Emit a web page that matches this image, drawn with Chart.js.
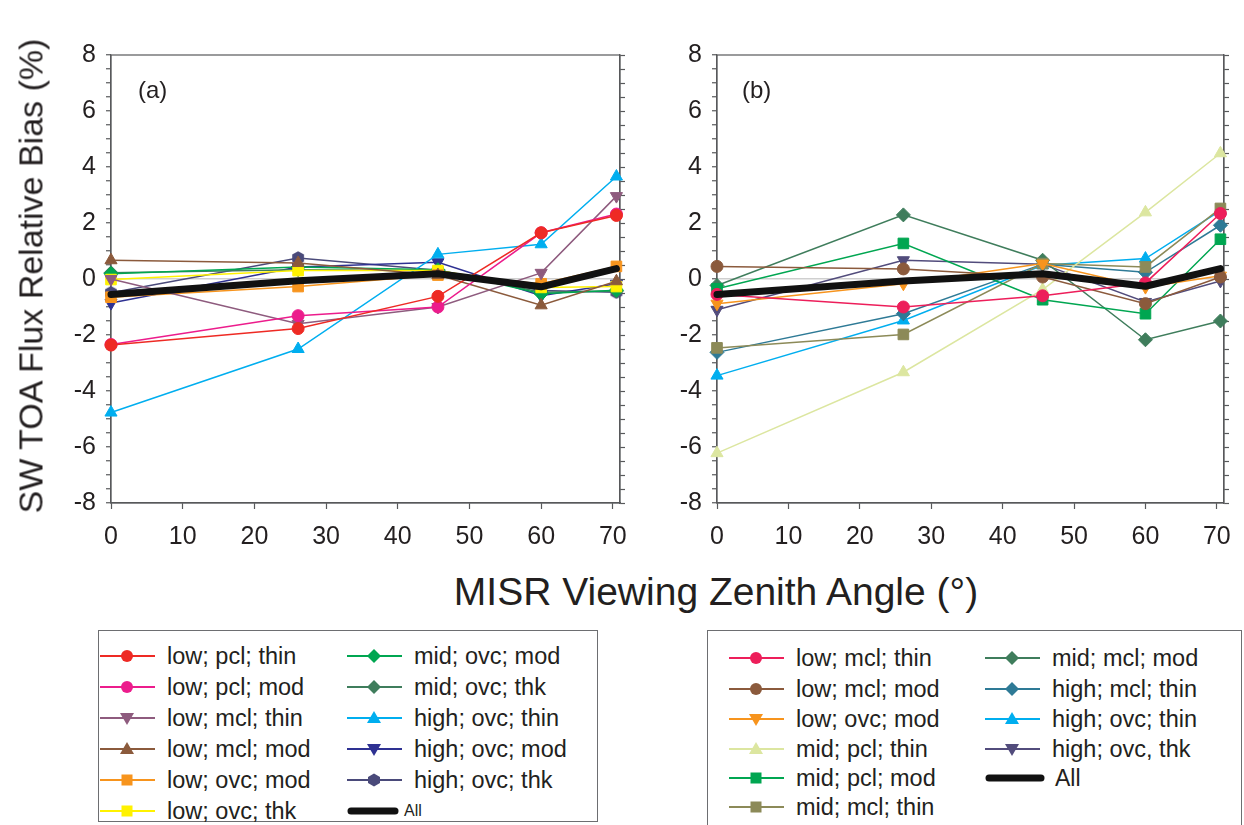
<!DOCTYPE html>
<html>
<head>
<meta charset="utf-8">
<title>SW TOA Flux Relative Bias</title>
<script src="https://cdn.jsdelivr.net/npm/chart.js@4.4.1/dist/chart.umd.min.js"></script>
<style>
  body { margin: 0; width: 1244px; height: 825px; background: #fff; position: relative; overflow: hidden;
         font-family: "Liberation Sans", Arial, sans-serif; color: #231f20; }
  canvas { position: absolute; }
  .ytitle { position: absolute; left: 31px; top: 276px; transform: translate(-50%, -50%) rotate(-90deg);
            font-size: 34px; white-space: nowrap; }
  .xtitle { position: absolute; left: 716px; top: 592px; transform: translate(-50%, -50%);
            font-size: 39px; white-space: nowrap; }
  .tag { position: absolute; font-size: 24px; line-height: 1; transform: translateY(-50%); }
  .legend { position: absolute; border: 1px solid #6d6e71; box-sizing: border-box; background: #fff; }
  .item { position: absolute; height: 24px; transform: translateY(-50%); display: flex; align-items: center;
          font-size: 23.5px; white-space: nowrap; }
  .item svg { display: block; margin-right: 12px; }
</style>
</head>
<body>
<canvas id="chartA" width="600" height="535" style="left:40px; top:25px;"></canvas>
<canvas id="chartB" width="598" height="535" style="left:646px; top:25px;"></canvas>
<div class="ytitle">SW TOA Flux Relative Bias (%)</div>
<div class="xtitle">MISR Viewing Zenith Angle (°)</div>
<div class="tag" style="left:138px; top:90px;">(a)</div>
<div class="tag" style="left:742px; top:90px;">(b)</div>
<div class="legend" id="legendA" style="left:98px; top:630px; width:500px; height:192px;"></div>
<div class="legend" id="legendB" style="left:707px; top:630px; width:535px; height:205px;"></div>

<script>
// MISR camera view zenith angles
const angles = [0, 26.1, 45.6, 60.0, 70.5];
const xTickLabels = [0, 10, 20, 30, 40, 50, 60, 70];
const yTickLabels = [-8, -6, -4, -2, 0, 2, 4, 6, 8];

// panel (a)
const namesA = ["low; pcl; thin", "low; pcl; mod", "low; mcl; thin", "low; mcl; mod", "low; ovc; mod",
  "low; ovc; thk", "mid; ovc; mod", "mid; ovc; thk", "high; ovc; thin", "high; ovc; mod", "high; ovc; thk"];
const aLowPclThin  = [-2.36, -1.77, -0.62, 1.65, 2.27];
const aLowPclMod   = [-2.34, -1.31, -1.00, 1.65, 2.32];
const aLowMclThin  = [0.00, -1.60, -1.00, 0.22, 2.96];
const aLowMclMod   = [0.67, 0.57, 0.14, -0.94, -0.08];
const aLowOvcMod   = [-0.65, -0.27, 0.14, -0.17, 0.45];
const aLowOvcThk   = [-0.02, 0.30, 0.30, -0.30, -0.27];
const aMidOvcMod   = [0.19, 0.43, 0.33, -0.53, -0.40];
const aMidOvcThk   = [0.22, 0.33, 0.30, -0.47, -0.43];
const aHighOvcThin = [-4.77, -2.50, 0.88, 1.24, 3.66];
const aHighOvcMod  = [-0.86, 0.43, 0.60, -0.60, -0.17];
const aHighOvcThk  = [-0.49, 0.75, 0.31, -0.41, -0.47];
const allA = [-0.55, -0.06, 0.19, -0.28, 0.37];

// panel (b)
const namesB = ["low; mcl; thin", "low; mcl; mod", "low; ovc; mod", "mid; pcl; thin", "mid; pcl; mod",
  "mid; mcl; thin", "mid; mcl; mod", "high; mcl; thin", "high; ovc; thin", "high; ovc, thk"];
const bLowMclThin  = [-0.55, -1.00, -0.60, -0.14, 2.34];
const bLowMclMod   = [0.45, 0.36, 0.07, -0.88, 0.07];
const bLowOvcMod   = [-0.88, -0.17, 0.55, -0.29, 0.12];
const bMidPclThin  = [-6.22, -3.33, -0.38, 2.38, 4.49];
const bMidPclMod   = [-0.35, 1.27, -0.74, -1.24, 1.42];
const bMidMclThin  = [-2.46, -1.98, 0.55, 0.43, 2.52];
const bMidMclMod   = [-0.23, 2.29, 0.67, -2.17, -1.50];
const bHighMclThin = [-2.62, -1.24, 0.53, 0.24, 1.92];
const bHighOvcThin = [-3.45, -1.48, 0.49, 0.73, 2.44];
const bHighOvcThk  = [-1.10, 0.67, 0.53, -0.82, -0.07];
const allB = [-0.55, -0.07, 0.19, -0.26, 0.37];

const seriesA = [aLowPclThin, aLowPclMod, aLowMclThin, aLowMclMod, aLowOvcMod, aLowOvcThk,
  aMidOvcMod, aMidOvcThk, aHighOvcThin, aHighOvcMod, aHighOvcThk];
const seriesB = [bLowMclThin, bLowMclMod, bLowOvcMod, bMidPclThin, bMidPclMod, bMidMclThin,
  bMidMclMod, bHighMclThin, bHighOvcThin, bHighOvcThk];

const stylesA = [
  { color: "#ee2a24", shape: "circle" },
  { color: "#ec1c8c", shape: "circle" },
  { color: "#8e5b7e", shape: "down" },
  { color: "#8b5a3c", shape: "triangle" },
  { color: "#f7941d", shape: "rect" },
  { color: "#fff200", shape: "rect" },
  { color: "#00a651", shape: "rectRot" },
  { color: "#3f7d5c", shape: "rectRot" },
  { color: "#00aeef", shape: "triangle" },
  { color: "#2e3192", shape: "down" },
  { color: "#4a4a7a", shape: "hex" }
];
const stylesB = [
  { color: "#ed1e5a", shape: "circle" },
  { color: "#8b5a3c", shape: "circle" },
  { color: "#f7941d", shape: "down" },
  { color: "#dce6a0", shape: "triangle" },
  { color: "#00a651", shape: "rect" },
  { color: "#8c8a58", shape: "rect" },
  { color: "#3f7d5c", shape: "rectRot" },
  { color: "#2e7a96", shape: "rectRot" },
  { color: "#00aeef", shape: "triangle" },
  { color: "#524c7c", shape: "down" }
];

const FONT = "'Liberation Sans', Arial, sans-serif";
const AXIS = "#58595b";

function hexImage(color) {
  const c = document.createElement("canvas");
  c.width = 14; c.height = 14;
  const g = c.getContext("2d");
  g.fillStyle = color;
  g.beginPath();
  for (let k = 0; k < 6; k++) {
    const a = Math.PI / 6 + k * Math.PI / 3;
    const px = 7 + 6.8 * Math.cos(a), py = 7 + 6.8 * Math.sin(a);
    k === 0 ? g.moveTo(px, py) : g.lineTo(px, py);
  }
  g.closePath();
  g.fill();
  return c;
}

function pointProps(s) {
  if (s.shape === "hex") return { pointStyle: hexImage(s.color), pointRadius: 7, pointRotation: 0 };
  if (s.shape === "down") return { pointStyle: "triangle", pointRadius: 7, pointRotation: 180 };
  if (s.shape === "triangle") return { pointStyle: "triangle", pointRadius: 7, pointRotation: 0 };
  if (s.shape === "rect") return { pointStyle: "rect", pointRadius: 7.5, pointRotation: 0 };
  if (s.shape === "rectRot") return { pointStyle: "rectRot", pointRadius: 7, pointRotation: 0 };
  return { pointStyle: "circle", pointRadius: 6, pointRotation: 0 };
}

const near = (list, v) => list.some(t => Math.abs(t - v) < 1e-6);

const frame = {
  id: "frame",
  beforeDatasetsDraw(chart) {
    const a = chart.chartArea, g = chart.ctx;
    g.save();
    g.strokeStyle = AXIS;
    g.lineWidth = 1.2;
    g.strokeRect(a.left, a.top, a.right - a.left, a.bottom - a.top);
    g.restore();
  }
};

function makeChart(id, series, styles, names, allVals, leftWidth, rightWidth) {
  const datasets = series.map((vals, i) => Object.assign({
    label: names[i],
    data: angles.map((x, j) => ({ x: x, y: vals[j] })),
    borderColor: styles[i].color,
    backgroundColor: styles[i].color,
    borderWidth: 1.5,
    pointBorderWidth: 1,
    tension: 0,
    clip: false,
    order: 1
  }, pointProps(styles[i])));

  datasets.push({
    label: "All",
    data: angles.map((x, j) => ({ x: x, y: allVals[j] })),
    borderColor: "#111111",
    backgroundColor: "#111111",
    borderWidth: 7,
    borderCapStyle: "round",
    borderJoinStyle: "round",
    pointRadius: 0,
    clip: false,
    order: 0
  });

  return new Chart(document.getElementById(id), {
    type: "line",
    data: { datasets },
    plugins: [frame],
    options: {
      responsive: false,
      animation: false,
      layout: { padding: { top: 30, left: 0, right: 0, bottom: 0 } },
      plugins: { legend: { display: false }, tooltip: { enabled: false } },
      scales: {
        x: {
          type: "linear", min: 0, max: 71, position: "bottom",
          afterFit: s => { s.height = 57; },
          ticks: {
            stepSize: 10, includeBounds: false, autoSkip: false, maxRotation: 0, padding: 13,
            color: "#231f20", font: { size: 25, family: FONT },
            callback: v => near(xTickLabels, v) ? String(v) : ""
          },
          grid: { drawOnChartArea: false, tickLength: 6, tickColor: AXIS, tickWidth: 1.2 },
          border: { color: AXIS, width: 1.2 }
        },
        y: {
          type: "linear", min: -8, max: 8, position: "left",
          afterFit: s => { s.width = leftWidth; },
          ticks: {
            stepSize: 0.5, autoSkip: false, padding: 10,
            color: "#231f20", font: { size: 25, family: FONT },
            callback: v => near(yTickLabels, v) ? String(v) : ""
          },
          grid: {
            color: ctx => (ctx.tick && Math.abs(ctx.tick.value) < 1e-6) ? "#cfcfcf" : "rgba(0,0,0,0)",
            lineWidth: 1.5, tickLength: 5, tickColor: AXIS, tickWidth: 1.2
          },
          border: { color: AXIS, width: 1.2 }
        },
        yr: {
          type: "linear", min: -8, max: 8, position: "right",
          afterFit: s => { s.width = rightWidth; },
          ticks: { stepSize: 0.5, autoSkip: false, display: false },
          grid: { drawOnChartArea: false, tickLength: 5, tickColor: AXIS, tickWidth: 1.2 },
          border: { color: AXIS, width: 1.2 }
        }
      }
    }
  });
}

function markerSvg(s) {
  const c = s.color;
  let m = "";
  if (s.shape === "circle") m = `<circle cx="27" cy="11" r="6" fill="${c}"/>`;
  else if (s.shape === "triangle") m = `<polygon points="27,4 34,16 20,16" fill="${c}"/>`;
  else if (s.shape === "down") m = `<polygon points="27,18 34,6 20,6" fill="${c}"/>`;
  else if (s.shape === "rect") m = `<rect x="21.5" y="5.5" width="11" height="11" fill="${c}"/>`;
  else if (s.shape === "rectRot") m = `<polygon points="27,4 34,11 27,18 20,11" fill="${c}"/>`;
  else if (s.shape === "hex") m = `<polygon points="27,4.5 33,8 33,14 27,17.5 21,14 21,8" fill="${c}"/>`;
  return `<svg width="55" height="22"><line x1="0" y1="11" x2="55" y2="11" stroke="${c}" stroke-width="2"/>${m}</svg>`;
}

function buildLegend(id, names, styles, layout) {
  const box = document.getElementById(id);
  names.forEach((name, i) => {
    const col = i < layout.perCol ? 0 : 1;
    const row = i < layout.perCol ? i : i - layout.perCol;
    const div = document.createElement("div");
    div.className = "item";
    div.style.left = layout.colX[col] + "px";
    div.style.top = layout.rowY[row] + "px";
    div.innerHTML = markerSvg(styles[i]) + `<span>${name}</span>`;
    box.appendChild(div);
  });
  const all = document.createElement("div");
  all.className = "item";
  all.style.left = layout.colX[1] + "px";
  all.style.top = layout.rowY[names.length - layout.perCol] + "px";
  all.innerHTML = `<svg width="${layout.allLen + 4}" height="22" style="margin-right:${layout.allGap}px">` +
    `<line x1="4" y1="11" x2="${layout.allLen}" y2="11" stroke="#111" stroke-width="7" stroke-linecap="round"/></svg>` +
    `<span style="font-size:${layout.allSize}px">All</span>`;
  box.appendChild(all);
}

makeChart("chartA", seriesA, stylesA, namesA, allA, 71, 18);
makeChart("chartB", seriesB, stylesB, namesB, allB, 71, 17);

buildLegend("legendA", namesA, stylesA, {
  perCol: 6, colX: [1, 248], rowY: [25, 56, 87, 118, 149, 180], allLen: 48, allGap: 5, allSize: 16
});
buildLegend("legendB", namesB, stylesB, {
  perCol: 6, colX: [21, 277], rowY: [27, 58, 88, 118, 147, 176], allLen: 56, allGap: 10, allSize: 23
});
</script>
</body>
</html>
